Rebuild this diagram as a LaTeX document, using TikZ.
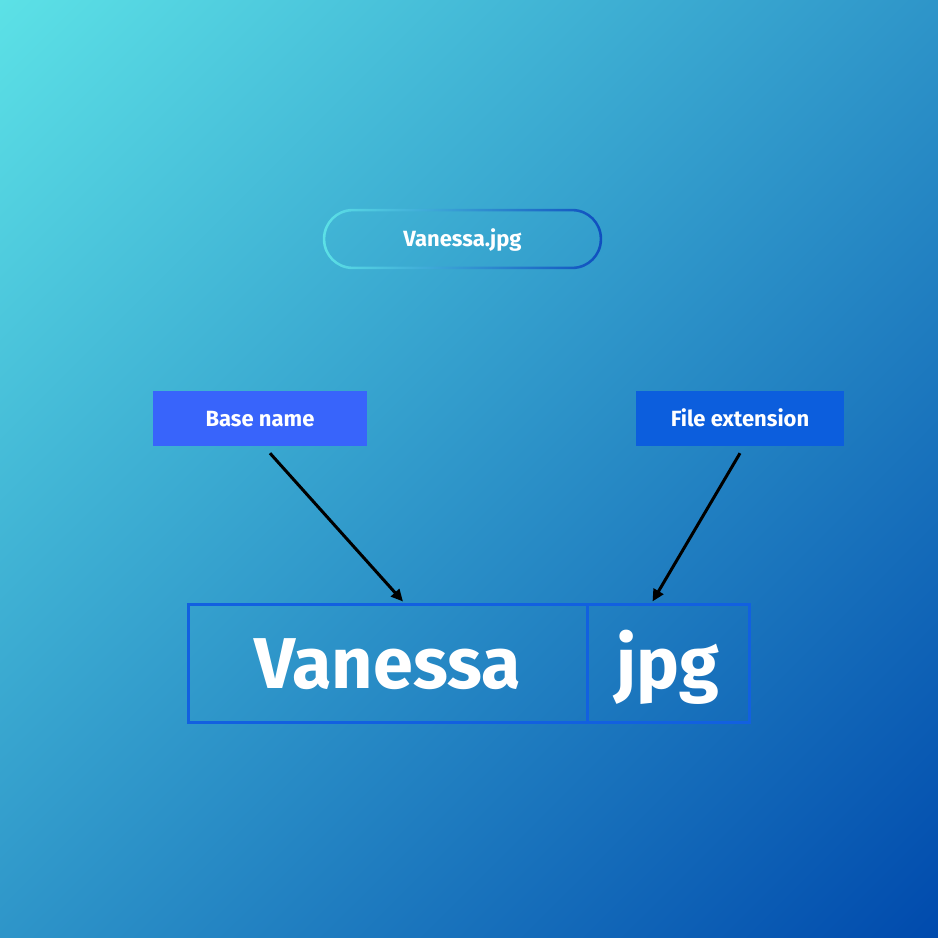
\documentclass[tikz,border=0pt]{standalone}
\usepackage{fontspec}
\setmainfont{Fira Sans}
\usetikzlibrary{arrows.meta,calc,shadings}
\definecolor{bgA}{HTML}{5CE1E6}
\definecolor{bgB}{HTML}{004AAD}
\definecolor{bgM}{HTML}{2E95C9}
\definecolor{baseC}{HTML}{3864FB}
\definecolor{extC}{HTML}{0C5EDD}
\definecolor{boxLine}{HTML}{1260E0}
\definecolor{pillL}{HTML}{5CE1E6}
\definecolor{pillR}{HTML}{0F4EBF}
\tikzset{
  label box/.style={fill=#1, text=white, inner sep=0pt, minimum height=55pt,
    font=\fontsize{22}{26}\selectfont\bfseries, text height=15pt, text depth=0pt},
  part box/.style={draw=boxLine, line width=3pt, text=white, inner sep=0pt,
    minimum height=118pt, font=\fontsize{72}{80}\selectfont\bfseries,
    text height=50pt, text depth=0pt},
  pointer/.style={line width=3pt, black, -{Triangle[length=12pt,width=11pt]}},
}
\begin{document}
\begin{tikzpicture}[x=1pt,y=-1pt]
\useasboundingbox (0,0) rectangle (938,938);
\shade[upper left=bgA, lower right=bgB, upper right=bgM, lower left=bgM] (0,0) rectangle (938,938);
% pill
\node[minimum width=279pt, minimum height=60pt, inner sep=0pt, text=white,
  font=\fontsize{22}{26}\selectfont\bfseries, text height=15pt, text depth=0pt]
  (pill) at (462.5,239) {Vanessa.jpg};
\shade[left color=pillL, right color=pillR, even odd rule]
  [rounded corners=30pt] (pill.south west) rectangle (pill.north east)
  [rounded corners=27.5pt] ($(pill.south west)+(2.5,-2.5)$) rectangle ($(pill.north east)+(-2.5,2.5)$);
% labels
\node[label box=baseC, minimum width=214pt] (base) at (260,418.5) {Base name};
\node[label box=extC, minimum width=208pt] (ext) at (740,418.5) {File extension};
% parts
\node[part box, minimum width=399pt] (vbox) at (387.5,663) {Vanessa};
\node[part box, minimum width=162pt] (jbox) at (668,663) {jpg};
% arrows
\coordinate (s1) at ($(base.south)+(10,7)$);
\coordinate (e1) at ($(vbox.north)+(15.5,-1)$);
\coordinate (s2) at ($(ext.south)+(0,7)$);
\coordinate (e2) at ($(jbox.north west)+(67,-1)$);
\draw[pointer] (s1) -- (e1);
\draw[pointer] (s2) -- (e2);
\end{tikzpicture}
\end{document}
